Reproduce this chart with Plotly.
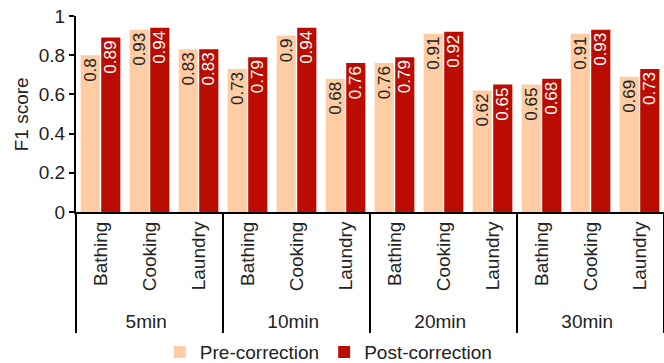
import plotly.graph_objects as go

groups = ["5min", "10min", "20min", "30min"]
activities = ["Bathing", "Cooking", "Laundry"]
pre = [0.80, 0.93, 0.83, 0.73, 0.90, 0.68, 0.76, 0.91, 0.62, 0.65, 0.91, 0.69]
post = [0.89, 0.94, 0.83, 0.79, 0.94, 0.76, 0.79, 0.92, 0.65, 0.68, 0.93, 0.73]
ytick_vals = [0, 0.2, 0.4, 0.6, 0.8, 1]
ytick_text = ["0", "0.2", "0.4", "0.6", "0.8", "1"]

outer = [g for g in groups for _ in activities]
inner = [a for _ in groups for a in activities]
x = [outer, inner]

FONT = "Liberation Sans, Arial, sans-serif"

fig = go.Figure()
fig.add_trace(go.Bar(
    x=x, y=pre, name="Pre-correction",
    marker=dict(color="#FFCCA4", line=dict(width=0)),
    text=[f"{v:g}" for v in pre], textposition="inside", insidetextanchor="end",
    textangle=-90, textfont=dict(color="#222222", size=17, family=FONT),
))
fig.add_trace(go.Bar(
    x=x, y=post, name="Post-correction",
    marker=dict(color="#BA0C00", line=dict(width=0)),
    text=[f"{v:g}" for v in post], textposition="inside", insidetextanchor="end",
    textangle=-90, textfont=dict(color="white", size=17, family=FONT),
))

fig.update_layout(
    width=664, height=363,
    margin=dict(l=76, r=0, t=16, b=151),
    paper_bgcolor="white", plot_bgcolor="white",
    font=dict(family=FONT, size=19, color="#222222"),
    barmode="group", bargap=0.16, bargroupgap=0.07,
    uniformtext=dict(minsize=17, mode="show"),
    showlegend=True,
    legend=dict(orientation="h", x=0.43, xanchor="center",
                yref="container", y=0.03, yanchor="middle",
                font=dict(size=19), itemwidth=30, traceorder="normal",
                tracegroupgap=0, borderwidth=0, bgcolor="rgba(0,0,0,0)"),
    annotations=[dict(text="F1 score", xref="paper", yref="paper",
                      x=-0.093, y=0.5, xanchor="center", yanchor="middle",
                      textangle=-90, showarrow=False, font=dict(size=19))],
)
fig.update_yaxes(
    range=[0, 1], tickvals=ytick_vals, ticktext=ytick_text,
    showline=True, linecolor="black", linewidth=2,
    ticks="outside", ticklen=5, tickcolor="black", tickwidth=1.5,
    showgrid=False, zeroline=False, automargin=False,
    tickfont=dict(size=19),
)
fig.update_xaxes(
    type="multicategory", automargin=False,
    showline=True, linecolor="black", linewidth=2,
    showdividers=True, dividercolor="black", dividerwidth=2,
    tickangle=-90, tickfont=dict(size=19),
    ticks="", showgrid=False,
)

fig.write_html("out.html")
